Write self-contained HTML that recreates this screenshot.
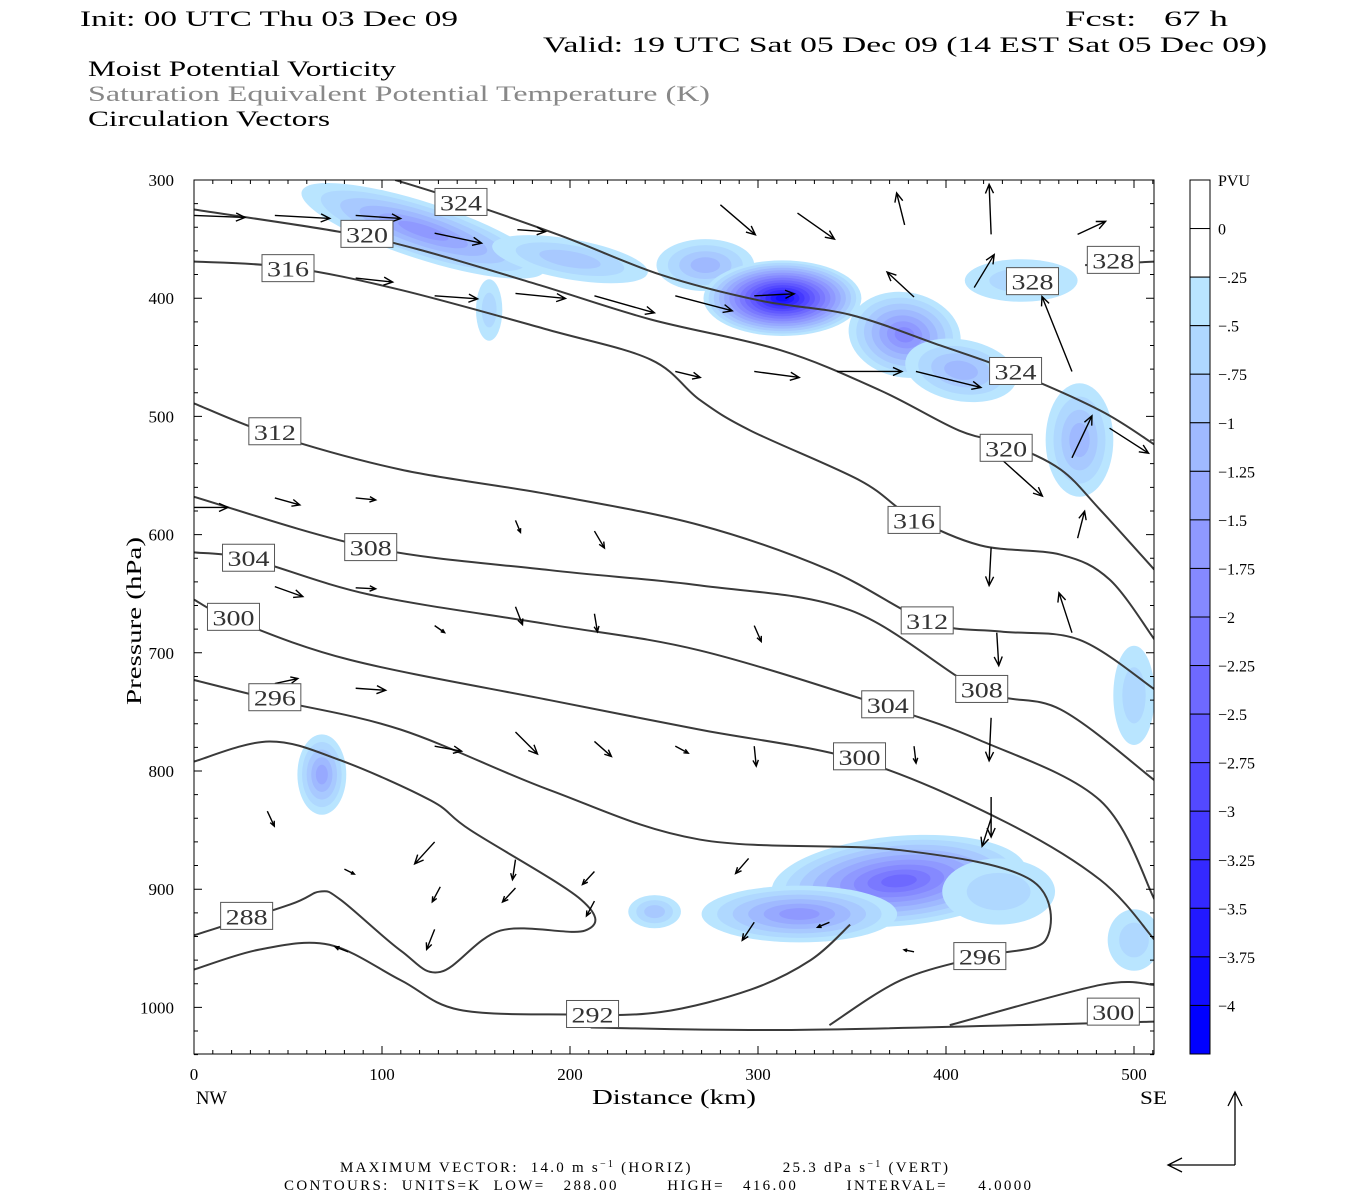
<!DOCTYPE html>
<html><head><meta charset="utf-8"><style>
html,body{margin:0;padding:0;background:#fff;}
svg{display:block;font-family:"Liberation Serif",serif;}
</style></head><body>
<svg id="chart" width="1350" height="1200" viewBox="0 0 1350 1200" xmlns="http://www.w3.org/2000/svg">
<g font-size="22" fill="#000">
<text x="80" y="26" textLength="378" lengthAdjust="spacingAndGlyphs">Init: 00 UTC Thu 03 Dec 09</text>
<text x="1065" y="26" textLength="163" lengthAdjust="spacingAndGlyphs" xml:space="preserve">Fcst:   67 h</text>
<text x="543" y="52" textLength="724" lengthAdjust="spacingAndGlyphs">Valid: 19 UTC Sat 05 Dec 09 (14 EST Sat 05 Dec 09)</text>
<text x="88" y="76" textLength="308" lengthAdjust="spacingAndGlyphs">Moist Potential Vorticity</text>
<text x="88" y="101" textLength="622" lengthAdjust="spacingAndGlyphs" fill="#888">Saturation Equivalent Potential Temperature (K)</text>
<text x="88" y="126" textLength="242" lengthAdjust="spacingAndGlyphs">Circulation Vectors</text>
</g>
<g id="shade"></g>
<g id="contours"></g>
<g id="vectors"></g>
<g id="clabels"></g>
<rect x="194" y="180" width="960" height="874" fill="none" stroke="#000" stroke-width="1"/>
<g id="axes" font-size="17"></g>
<g id="cbar" font-size="16"></g>
<text x="141" y="621" font-size="21" text-anchor="middle" transform="rotate(-90 141 621)" textLength="168" lengthAdjust="spacingAndGlyphs">Pressure (hPa)</text>
<text x="674" y="1104" font-size="21" text-anchor="middle" textLength="164" lengthAdjust="spacingAndGlyphs">Distance (km)</text>
<text x="196" y="1104" font-size="19" textLength="31" lengthAdjust="spacingAndGlyphs">NW</text>
<text x="1140" y="1104" font-size="19" textLength="27" lengthAdjust="spacingAndGlyphs">SE</text>
<g font-size="15">
<text x="340" y="1172" textLength="608" lengthAdjust="spacing" xml:space="preserve">MAXIMUM VECTOR:  14.0 m s<tspan dy="-5" font-size="10">−1</tspan><tspan dy="5"> (HORIZ)               25.3 dPa s</tspan><tspan dy="-5" font-size="10">−1</tspan><tspan dy="5"> (VERT)</tspan></text>
<text x="284" y="1190" textLength="747" lengthAdjust="spacing" xml:space="preserve">CONTOURS:  UNITS=K  LOW=   288.00        HIGH=   416.00        INTERVAL=     4.0000</text>
</g>
<g stroke="#000" stroke-width="1.3" fill="none">
<path d="M1235 1165 V1092 M1228 1106 L1235 1092 L1242 1106"/>
<path d="M1235 1165 H1168 M1182 1158 L1168 1165 L1182 1172"/>
</g>
</svg>
<script>
// ---- data ----
const pressureTicks = [300,400,500,600,700,800,900,1000];
const distanceTicks = [0,100,200,300,400,500];
const pvLabels = ["PVU","0","-.25","-.5","-.75","-1","-1.25","-1.5","-1.75","-2","-2.25","-2.5","-2.75","-3","-3.25","-3.5","-3.75","-4"];
const pvColors = ["#ffffff","#ffffff","#b9e5ff","#afd8ff","#a8c9ff","#9fb9ff","#97a9ff","#8f99ff","#8589ff","#7a79ff","#6e69ff","#6159ff","#5349ff","#4439ff","#3429ff","#2219ff","#110cff","#0000ff"];
// PV blobs: center distance (km), pressure (hPa), half-width km, half-height hPa, minimum PV, tilt
const blobD = [122,200,272,313,378,408,471,440,157,68,375,322,245,500,500,428];
const blobP = [343,367,372,400,431,461,520,385,410,803,893,921,919,736,943,902];
const blobRx = [68,42,26,42,30,30,18,30,7,13,68,52,14,11,14,30];
const blobRy = [24,17,22,32,36,26,48,18,26,34,38,24,14,42,26,28];
const blobMin = [-1.5,-0.75,-1,-3.75,-1.75,-1,-1,-0.5,-0.5,-1.25,-2.25,-1.5,-0.75,-0.5,-0.5,-0.5];
const blobTilt = [18,10,0,0,10,10,0,0,0,0,-5,0,0,0,0,0];
// theta-es contours
const cLevel = [324,320,316,312,308,304,300,296,292,292,300,300,328];
const cDist = [
 [107,141,195,248,301,349,397,434,482,511],
 [0,78,120,184,243,312,365,407,434,461,482,511],
 [0,51,110,189,243,269,296,354,381,418,461,487,511],
 [0,43,110,189,269,338,391,429,471,511],
 [0,94,189,269,349,418,461,511],
 [0,30,94,189,269,365,418,482,511],
 [0,21,83,189,269,354,429,482,511],
 [0,43,110,189,269,376,445,453,418,376,338],
 [0,40,78,126,147,206,208,163,131,110,78,67,51,0],
 [0,35,72,110,141,200,248,296,328,349],
 [402,482,511],
 [211,322,511],
 [474,511]
];
const cPress = [
 [300,317,347,380,402,414,440,461,495,524],
 [325,344,359,389,418,444,478,512,524,545,579,630],
 [369,374,393,427,452,486,512,554,584,609,617,638,689],
 [489,516,545,566,592,630,674,682,689,731],
 [568,611,630,643,664,731,748,808],
 [615,621,651,676,698,744,774,825,909],
 [655,672,706,740,765,791,841,892,943],
 [723,740,765,816,858,867,892,943,957,977,1015],
 [792,775,791,825,850,909,935,935,970,952,909,902,913,939],
 [968,951,947,977,1002,1006,1004,985,960,930],
 [1015,981,981],
 [1017,1019,1012],
 [372,369]
];
const labelText = [324,320,316,312,308,304,300,296,288,292,328,328,324,320,316,312,308,304,300,296,300];
const labelD = [142,92,50,43,94,29,21,43,28,212,446,489,437,432,383,390,419,369,354,418,489];
const labelP = [319,346,375,513,611,620,670,738,923,1006,386,368,462,527,588,673,731,744,788,957,1004];
// circulation vectors: tail distance (km), pressure (hPa), horizontal and vertical components (display units)
const vecD = [0,43,86,128,172,86,128,171,213,256,298,342,384,298,256,467,467,430,470,424,467,427,424,424,424,378,280,321,424,383,415,487,470,0,43,86,43,86,86,43,128,171,213,256,298,383,171,213,298,213,171,128,171,213,128,131,171,213,80,39,128,295,298,338,383,82,0];
const vecP = [330,330,330,345,342,383,398,396,398,398,398,462,462,462,462,462,535,537,603,611,683,683,755,822,840,338,321,328,346,399,391,510,346,577,569,569,644,645,730,726,779,767,775,779,779,779,661,667,677,597,588,677,875,885,860,898,899,910,883,834,934,874,928,928,953,953,1008];
const vecU = [51,55,45,47,28,37,43,50,60,57,40,65,65,45,25,-30,20,40,7,-2,-13,2,-2,0,-9,-8,35,37,-2,-27,20,39,28,34,25,20,28,20,30,23,27,22,17,13,2,2,7,3,7,10,5,10,-3,-12,-20,-8,-13,-8,10,7,-8,-13,-12,-12,-10,-13,0];
const vecW = [2,3,3,10,2,4,3,5,17,15,-2,0,16,6,6,-75,-42,36,-27,38,-40,33,43,40,28,-32,30,26,-50,-25,-33,25,-13,0,7,2,10,1,2,-5,5,22,15,7,20,17,18,18,16,17,12,7,20,13,22,15,14,15,5,15,20,15,18,5,-2,-5,0];

// ---- scales ----
const X0=194, X1=1154, Y0=180, Y1=1054;
function xs(d){return 194 + d*1.88;}
function ys(p){return 180 + (p-300)*1.182;}
const NS="http://www.w3.org/2000/svg";
function mk(tag, attrs, parent){const e=document.createElementNS(NS,tag);for(const k in attrs)e.setAttribute(k,attrs[k]);parent.appendChild(e);return e;}

const defs=mk('defs',{},document.getElementById('chart'));
const cp=mk('clipPath',{id:'plotclip'},defs);
mk('rect',{x:X0,y:Y0,width:X1-X0,height:Y1-Y0},cp);

// ---- shading ----
const shade=document.getElementById('shade');
shade.setAttribute('clip-path','url(#plotclip)');
for(let b=0;b<blobD.length;b++){
  const nLev=Math.round((-blobMin[b]-0.25)/0.25)+1;
  const cx=xs(blobD[b]), cy=ys(blobP[b]);
  for(let k=0;k<nLev;k++){
    const s=1-k/(nLev+0.3);
    const e=mk('ellipse',{cx:cx,cy:cy,rx:blobRx[b]*1.88*s,ry:blobRy[b]*1.182*s,fill:pvColors[2+k],transform:`rotate(${blobTilt[b]} ${cx} ${cy})`},shade);
    
    
  }
}

// ---- contours ----
const cg=document.getElementById('contours');
cg.setAttribute('clip-path','url(#plotclip)');
function smoothPath(pts){
  let d='M'+pts[0][0]+' '+pts[0][1];
  for(let i=0;i<pts.length-1;i++){
    const p0=pts[Math.max(i-1,0)],p1=pts[i],p2=pts[i+1],p3=pts[Math.min(i+2,pts.length-1)];
    const c1=[p1[0]+(p2[0]-p0[0])/6,p1[1]+(p2[1]-p0[1])/6];
    const c2=[p2[0]-(p3[0]-p1[0])/6,p2[1]-(p3[1]-p1[1])/6];
    d+=' C'+c1[0]+' '+c1[1]+' '+c2[0]+' '+c2[1]+' '+p2[0]+' '+p2[1];
  }
  return d;
}
for(let i=0;i<cLevel.length;i++){
  const pts=cDist[i].map((d,j)=>[xs(d),ys(cPress[i][j])]);
  const p=mk('path',{d:smoothPath(pts),fill:'none',stroke:'#3a3a3a','stroke-width':2},cg);
  
  
}

// ---- vectors ----
const vg=document.getElementById('vectors');
vg.setAttribute('clip-path','url(#plotclip)');
for(let i=0;i<vecD.length;i++){
  const x1=xs(vecD[i]),y1=ys(vecP[i]),x2=x1+vecU[i],y2=y1+vecW[i];
  const L=Math.hypot(vecU[i],vecW[i])||1;
  const ux=vecU[i]/L,uy=vecW[i]/L;
  const h=Math.min(9,Math.max(3,L*0.3));
  const ax=x2-ux*h-uy*h*0.45, ay=y2-uy*h+ux*h*0.45;
  const bx=x2-ux*h+uy*h*0.45, by=y2-uy*h-ux*h*0.45;
  const a=mk('path',{d:`M${x1} ${y1} L${x2} ${y2} M${ax} ${ay} L${x2} ${y2} L${bx} ${by}`,stroke:'#000','stroke-width':1.4,fill:'none'},vg);
  
  
}

// ---- contour labels ----
const lg=document.getElementById('clabels');
for(let i=0;i<labelText.length;i++){
  const cx=xs(labelD[i]),cy=ys(labelP[i]);
  const r=mk('rect',{x:cx-26,y:cy-14,width:52,height:27,fill:'#fff',stroke:'#555','stroke-width':1},lg);
  
  
  const t=mk('text',{x:cx,y:cy+8,'text-anchor':'middle','font-size':22,fill:'#333',textLength:42,lengthAdjust:'spacingAndGlyphs'},lg);
  t.textContent=labelText[i];
  
  
}

// ---- axes ----
const ag=document.getElementById('axes');
pressureTicks.forEach(p=>{
  const y=ys(p);
  const tk=mk('path',{d:`M${X0} ${y} h8 M${X1} ${y} h-8`,stroke:'#000'},ag);
  
  
  const t=mk('text',{x:174,y:y+6,'text-anchor':'end'},ag);
  t.textContent=p;
  
  
});
distanceTicks.forEach(d=>{
  const x=xs(d);
  const tk=mk('path',{d:`M${x} ${Y1} v-8 M${x} ${Y0} v8`,stroke:'#000'},ag);
  
  
  const t=mk('text',{x:x,y:1080,'text-anchor':'middle'},ag);
  t.textContent=d;
  
  
});
for(let d=10;d<=510;d+=10){
  if(d%100===0)continue;
  const x=xs(d);
  const tk=mk('path',{d:`M${x} ${Y1} v-4 M${x} ${Y0} v4`,stroke:'#000'},ag);
  
  
}
for(let p=320;p<=1040;p+=20){
  if(p%100===0)continue;
  const y=ys(p);
  const tk=mk('path',{d:`M${X0} ${y} h4 M${X1} ${y} h-4`,stroke:'#000'},ag);
  
  
}

// ---- colorbar ----
const cb=document.getElementById('cbar');
const segH=(1054-180)/18;
for(let i=0;i<18;i++){
  const y=180+i*segH;
  const r=mk('rect',{x:1190,y:y,width:20,height:segH,fill:pvColors[i],stroke:'#000','stroke-width':1},cb);
  
  
}
pvLabels.forEach((lab,i)=>{
  const t=mk('text',{x:1218,y:180+i*segH+6},cb);
  t.textContent=lab.replace('-','−');
  
  
});
</script>
</body></html>
